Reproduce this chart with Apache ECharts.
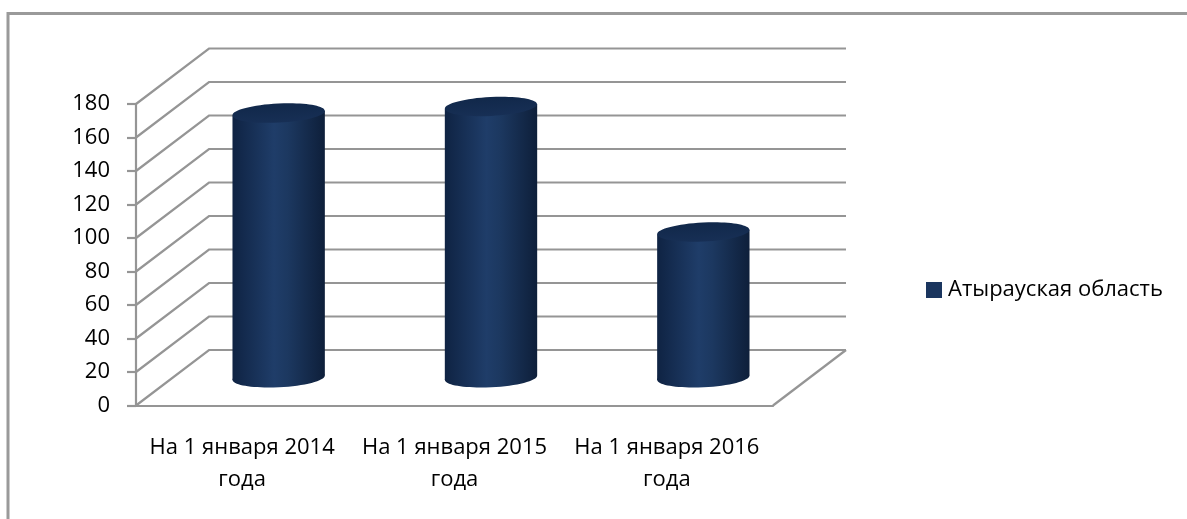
<!DOCTYPE html>
<html>
<head>
<meta charset="utf-8">
<script src="https://cdn.jsdelivr.net/npm/echarts@6/dist/echarts.min.js"></script>
<style>
  html, body { margin: 0; padding: 0; background: #fff; }
  #chart { width: 1187px; height: 519px; }
</style>
</head>
<body>
<div id="chart"></div>
<script>
// данные
var categories = ['На 1 января 2014 года', 'На 1 января 2015 года', 'На 1 января 2016 года'];
var values = [158, 162, 87];
var yTicks = [0, 20, 40, 60, 80, 100, 120, 140, 160, 180];
var seriesName = 'Атырауская область';

// глубина "3D" коробки в пикселях
var DX = 73, DY = -55.5;
var GRID_COLOR = '#959595';
var FONT = 'Open Sans';
var FS = 22;

var myChart = echarts.init(document.getElementById('chart'));

function wallItem(params, api) {
  var cs = params.coordSys;
  var v = api.value(1);
  var y = api.coord([0, v])[1];
  var x0 = cs.x, x1 = cs.x + cs.width;
  var st = { stroke: GRID_COLOR, lineWidth: 2.2, fill: null };
  var children = [{
    type: 'polyline',
    shape: { points: [[x0, y], [x0 + DX, y + DY], [x1 + DX, y + DY]] },
    style: st
  }];
  if (v === 0) {
    children.push({ type: 'line', shape: { x1: x1, y1: y, x2: x1 + DX, y2: y + DY }, style: st });
  }
  return { type: 'group', children: children };
}

function cylinderItem(params, api) {
  var i = api.value(0);
  var base = api.coord([i, 0]);
  var top = api.coord([i, api.value(1)]);
  var w = api.size([1, 0])[0] * 0.435;
  var cx = base[0] + DX / 2;
  var by = base[1] + DY / 2;
  var ty = top[1] + DY / 2;
  var rx = w / 2, ry = 9.5;
  var ang = 0.05;
  var t = rx * Math.sin(ang);
  var bodyFill = new echarts.graphic.LinearGradient(0, 0, 1, 0, [
    { offset: 0, color: '#0f2343' },
    { offset: 0.45, color: '#1f3d69' },
    { offset: 0.6, color: '#1c3860' },
    { offset: 1, color: '#0e1f3a' }
  ]);
  return {
    type: 'group',
    children: [
      {
        type: 'ellipse',
        shape: { cx: cx, cy: by, rx: rx, ry: ry },
        rotation: ang, originX: cx, originY: by,
        style: { fill: bodyFill }
      },
      {
        type: 'polygon',
        shape: { points: [[cx - rx, ty + t], [cx + rx, ty - t], [cx + rx, by - t], [cx - rx, by + t]] },
        style: { fill: bodyFill }
      },
      {
        type: 'ellipse',
        shape: { cx: cx, cy: ty, rx: rx, ry: ry },
        rotation: ang, originX: cx, originY: ty,
        style: {
          fill: new echarts.graphic.LinearGradient(0, 0, 0, 1, [
            { offset: 0, color: '#11284a' },
            { offset: 1, color: '#172f55' }
          ])
        }
      }
    ]
  };
}

var option = {
  animation: false,
  textStyle: { fontFamily: FONT },
  graphic: [{
    type: 'rect',
    shape: { x: 8, y: 13.5, width: 1300, height: 700 },
    style: { fill: null, stroke: '#9a9a9a', lineWidth: 3 },
    silent: true
  }],
  legend: {
    data: [seriesName],
    left: 926,
    top: 279,
    padding: 0,
    icon: 'rect',
    itemWidth: 16,
    itemHeight: 16,
    itemGap: 0,
    textStyle: { fontSize: FS, color: '#000', fontFamily: FONT, padding: [0, 0, 0, 1] }
  },
  grid: { left: 136, right: 414, top: 104, bottom: 113.5 },
  xAxis: {
    type: 'category',
    data: categories,
    axisLine: { lineStyle: { color: GRID_COLOR, width: 2.2 } },
    axisTick: { length: 9, lineStyle: { color: GRID_COLOR, width: 2.2 } },
    axisLabel: {
      margin: 26,
      fontSize: FS,
      lineHeight: 32,
      color: '#000',
      interval: 0,
      formatter: function (v) { return v.replace(' года', '\nгода'); }
    }
  },
  yAxis: {
    type: 'value',
    min: 0,
    max: 180,
    interval: 20,
    axisLine: { show: true, lineStyle: { color: GRID_COLOR, width: 2.2 } },
    axisTick: { show: true, length: 9, lineStyle: { color: GRID_COLOR, width: 2.2 } },
    splitLine: { show: false },
    axisLabel: { margin: 26, fontSize: FS, color: '#000' }
  },
  series: [
    {
      type: 'custom',
      name: 'walls',
      silent: true,
      z: 1,
      renderItem: wallItem,
      data: yTicks.map(function (v) { return [0, v]; })
    },
    {
      type: 'custom',
      name: seriesName,
      z: 3,
      itemStyle: { color: '#1b365f' },
      renderItem: cylinderItem,
      data: values.map(function (v, i) { return [i, v]; })
    }
  ]
};
myChart.setOption(option);
</script>
</body>
</html>
